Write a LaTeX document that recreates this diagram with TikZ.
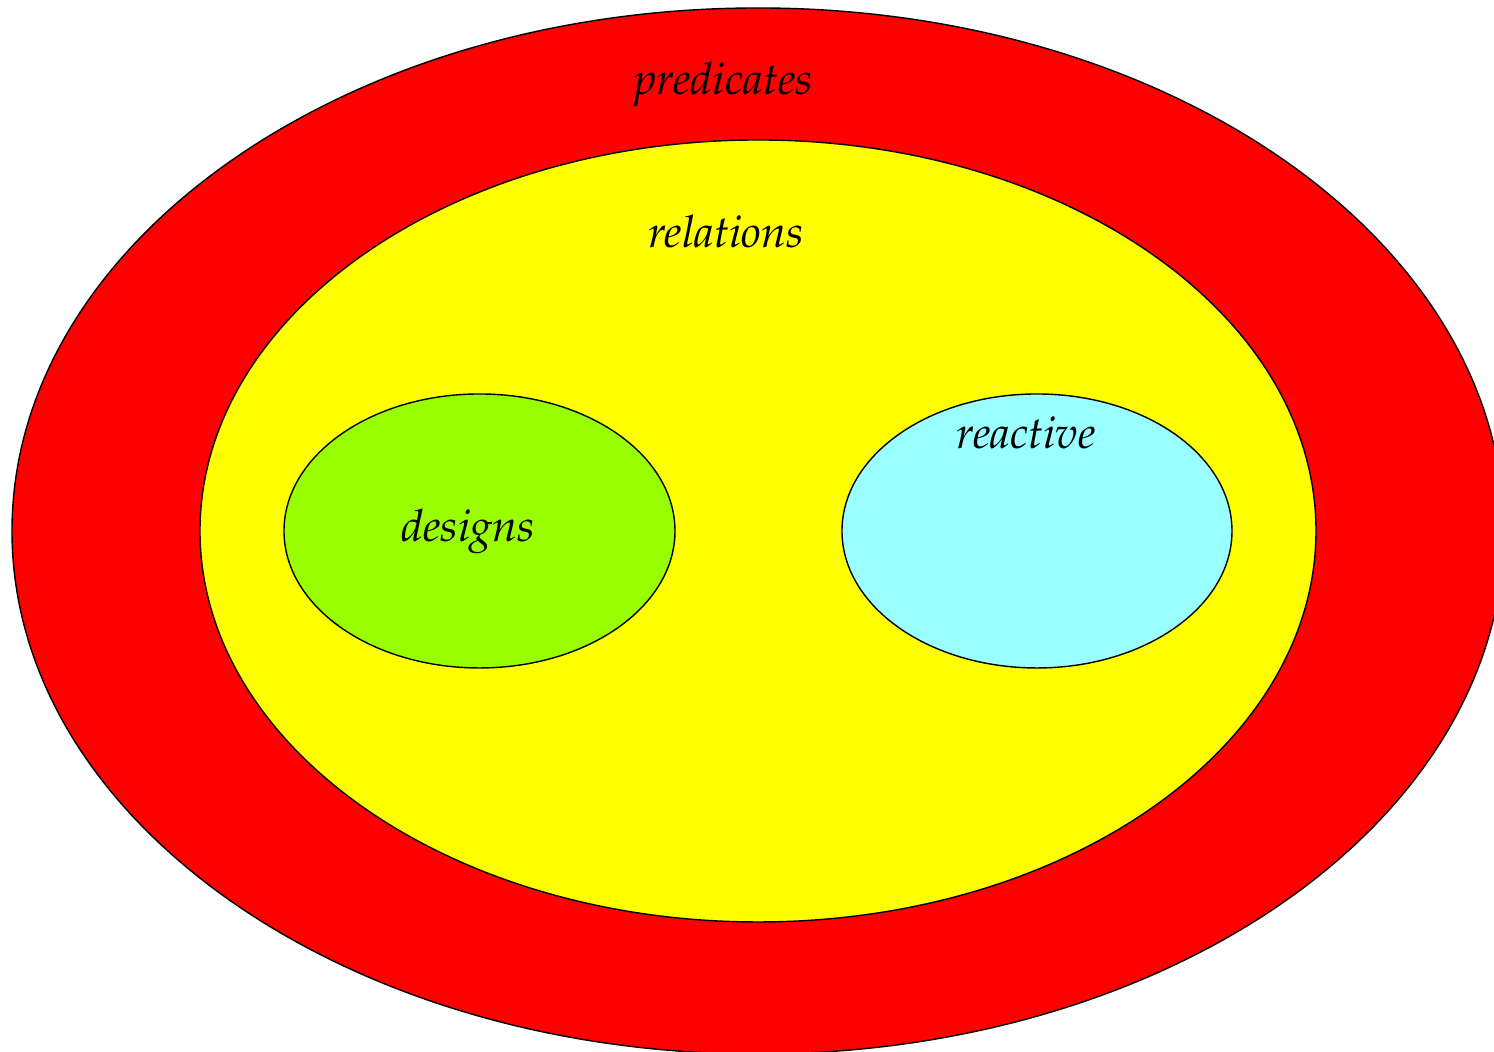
\documentclass[tikz,border=0pt]{standalone}
\usepackage[T1]{fontenc}
\usepackage{mathpazo}
\definecolor{setred}{RGB}{255,0,0}
\definecolor{setyellow}{RGB}{255,255,0}
\definecolor{setgreen}{RGB}{153,255,0}
\definecolor{setcyan}{RGB}{153,255,255}
\begin{document}
\begin{tikzpicture}[
  region/.style={draw=black, line width=0.4pt},
  setlabel/.style={anchor=base, inner sep=0pt, font=\fontsize{12.7}{15}\selectfont\itshape}
]
\useasboundingbox (0,0) rectangle (14.94,10.52);
\begin{scope}
  \clip (0,0) rectangle (14.94,10.52);
  % nested sets
  \draw[region, fill=setred] (7.58,5.21) ellipse [x radius=7.46, y radius=5.23];
  \draw[region, fill=setyellow] (7.58,5.21) ellipse [x radius=5.58, y radius=3.91];
  \draw[region, fill=setgreen] (4.795,5.21) ellipse [x radius=1.955, y radius=1.37];
  \draw[region, fill=setcyan] (10.37,5.21) ellipse [x radius=1.95, y radius=1.37];
\end{scope}
\node[setlabel] (pred) at (7.235,9.57) {predicates};
\node[setlabel] (rel) at (7.26,8.04) {relations};
\node[setlabel] (des) at (4.68,5.10) {designs};
\node[setlabel] (rea) at (10.26,6.03) {reactive};
\end{tikzpicture}
\end{document}
